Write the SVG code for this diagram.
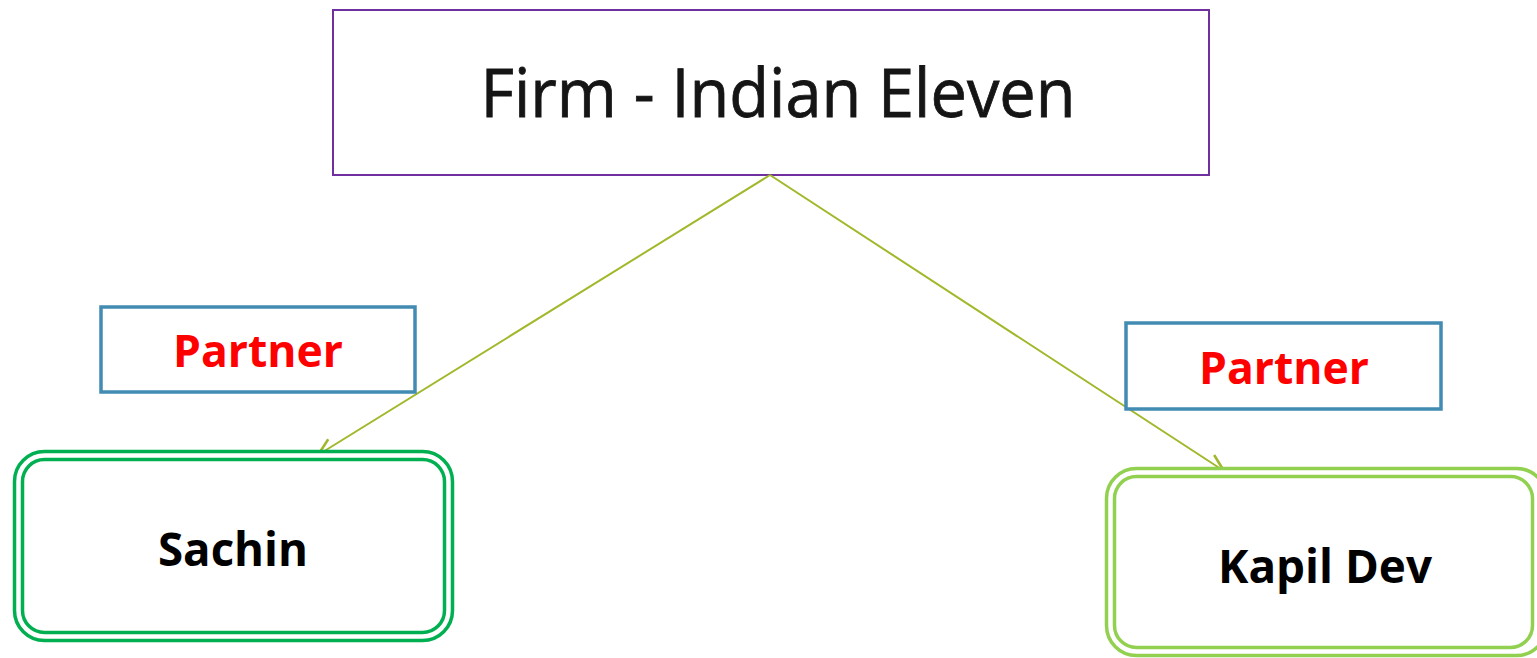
<svg xmlns="http://www.w3.org/2000/svg" width="1537" height="658" viewBox="0 0 1537 658">
<style>
.partner{fill:#fff;stroke:#428BB3;stroke-width:3.5}
.ptext{font-family:"Open Sans","Liberation Sans",sans-serif;font-weight:bold;font-size:44px;fill:#FF0000;text-anchor:middle}
.ntext{font-family:"Open Sans","Liberation Sans",sans-serif;font-weight:bold;font-size:47px;fill:#000;text-anchor:middle}
.conn{stroke:#A0B82A;stroke-width:2;fill:none}
</style>
<defs>
<marker id="arr" viewBox="0 0 20 20" refX="19" refY="10" markerWidth="20" markerHeight="20" markerUnits="userSpaceOnUse" orient="auto">
<path d="M2,2 L19,10 L2,18" fill="none" stroke="#A0B82A" stroke-width="2.5"/>
</marker>
</defs>
<rect width="1537" height="658" fill="#fff"/>
<g id="firm">
<rect x="333" y="10" width="876" height="165" fill="#fff" stroke="#7030A0" stroke-width="2"/>
<text x="778" y="117" font-family="'Open Sans','Liberation Sans',sans-serif" font-size="68" fill="#151515" stroke="#151515" stroke-width="0.8" text-anchor="middle" textLength="595" lengthAdjust="spacingAndGlyphs">Firm - Indian Eleven</text>
</g>
<g id="connectors">
<line class="conn" x1="770" y1="175" x2="318" y2="455" marker-end="url(#arr)"/>
<line class="conn" x1="770" y1="175" x2="1224" y2="471" marker-end="url(#arr)"/>
</g>
<g id="partner1">
<rect class="partner" x="101" y="307" width="314" height="85"/>
<text class="ptext" x="258" y="367" textLength="170" lengthAdjust="spacingAndGlyphs">Partner</text>
</g>
<g id="partner2">
<rect class="partner" x="1126" y="323" width="315" height="86"/>
<text class="ptext" x="1284" y="384" textLength="170" lengthAdjust="spacingAndGlyphs">Partner</text>
</g>
<g id="sachin">
<rect x="14.5" y="451.5" width="438" height="189" rx="30" fill="#fff" stroke="#00B050" stroke-width="3.5"/>
<rect x="22.5" y="459.5" width="422" height="173" rx="22" fill="none" stroke="#00B050" stroke-width="3.5"/>
<text class="ntext" x="233" y="566" textLength="150" lengthAdjust="spacingAndGlyphs">Sachin</text>
</g>
<g id="kapil">
<rect x="1106.5" y="468.5" width="440" height="187" rx="30" fill="#fff" stroke="#92D050" stroke-width="3.5"/>
<rect x="1114.5" y="476.5" width="418" height="171" rx="22" fill="none" stroke="#92D050" stroke-width="3.5"/>
<text class="ntext" x="1325" y="583" textLength="214" lengthAdjust="spacingAndGlyphs">Kapil Dev</text>
</g>
</svg>
